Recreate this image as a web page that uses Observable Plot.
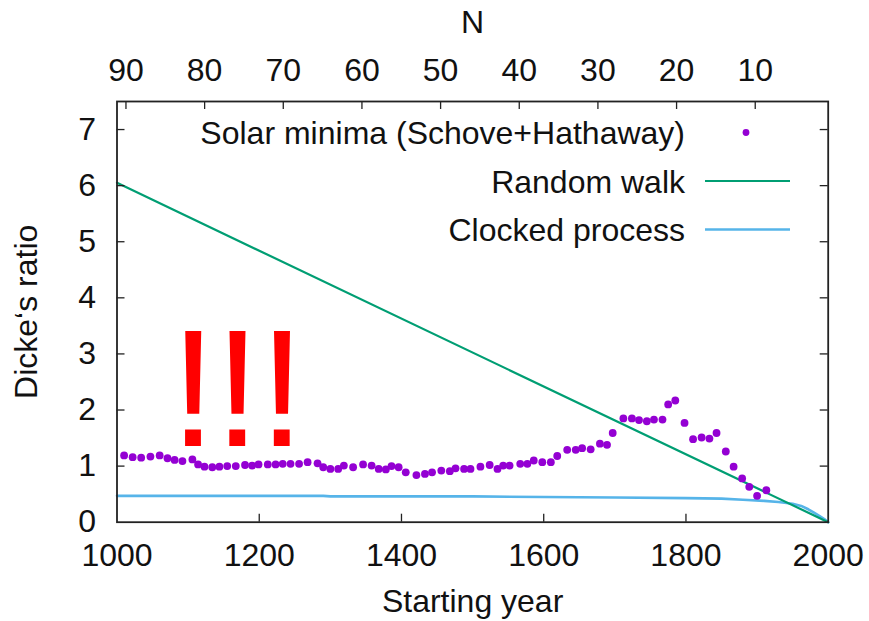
<!DOCTYPE html>
<html>
<head>
<meta charset="utf-8">
<script src="https://cdn.jsdelivr.net/npm/d3@7"></script>
<script src="https://cdn.jsdelivr.net/npm/@observablehq/plot@0.6"></script>
<style>
  html, body { margin: 0; padding: 0; background: #fff; }
  #chart svg { display: block; }
</style>
</head>
<body>
<div id="chart"></div>
<script>
// ---- data ----
const minimaYears = [1010, 1022, 1034, 1047, 1060, 1071, 1081, 1092, 1106, 1114, 1123, 1134, 1144, 1155, 1167, 1180, 1190, 1199, 1212, 1223, 1233, 1244, 1256, 1268, 1282, 1290, 1300, 1311, 1319, 1332, 1346, 1358, 1368, 1378, 1386, 1396, 1406, 1421, 1433, 1443, 1456, 1468, 1476, 1488, 1497, 1511, 1524, 1535, 1543, 1552, 1567, 1577, 1586, 1598, 1610, 1619, 1633, 1645, 1654, 1666, 1679, 1689, 1697, 1712, 1724, 1734, 1745, 1755, 1767, 1775, 1785, 1798, 1810, 1822, 1833, 1843, 1856, 1867, 1879, 1889, 1900, 1913];
const minimaRatios = [1.19, 1.16, 1.15, 1.17, 1.19, 1.14, 1.11, 1.09, 1.12, 1.03, 0.99, 0.98, 0.99, 1.00, 1.00, 1.02, 1.01, 1.03, 1.03, 1.03, 1.04, 1.04, 1.04, 1.07, 1.05, 0.98, 0.95, 0.95, 1.01, 0.98, 1.03, 1.01, 0.95, 0.94, 1.00, 0.98, 0.89, 0.84, 0.86, 0.89, 0.92, 0.91, 0.96, 0.95, 0.95, 0.99, 1.02, 0.95, 1.01, 1.01, 1.04, 1.04, 1.10, 1.07, 1.07, 1.18, 1.29, 1.29, 1.32, 1.30, 1.40, 1.38, 1.59, 1.85, 1.85, 1.82, 1.80, 1.83, 1.83, 2.10, 2.17, 1.77, 1.48, 1.51, 1.49, 1.59, 1.26, 0.99, 0.78, 0.63, 0.47, 0.57];

const walkYears = [1000, 2000];
const walkRatios = [6.05, 0];

const clockYears = [1000, 1100, 1200, 1290, 1300, 1400, 1500, 1600, 1700, 1800, 1850, 1880, 1910, 1930, 1950, 1962, 1972, 1980, 1988, 1995, 2000];
const clockRatios = [0.47, 0.47, 0.47, 0.47, 0.46, 0.46, 0.46, 0.45, 0.44, 0.43, 0.42, 0.40, 0.38, 0.36, 0.33, 0.29, 0.23, 0.17, 0.11, 0.05, 0];

const xTicks = [1000, 1200, 1400, 1600, 1800, 2000];
const yTicks = [0, 1, 2, 3, 4, 5, 6, 7];
const nTicks = [90, 80, 70, 60, 50, 40, 30, 20, 10];
const nEndYear = 2008;      // top axis: N cycles of ~11.06 years before 2008
const cycleLength = 11.06;

const legendLabels = ["Solar minima (Schove+Hathaway)", "Random walk", "Clocked process"];
const legendKinds = ["dot", "line", "line"];
const colors = ["#9400d3", "#009e73", "#56b4e9"];

const annotationText = ["!!!"];
const annotationYear = [1168];
const annotationRatio = [1.36];

// ---- tables ----
const minima = minimaYears.map((year, i) => ({year, ratio: minimaRatios[i]}));
const walk = walkYears.map((year, i) => ({year, ratio: walkRatios[i]}));
const clocked = clockYears.map((year, i) => ({year, ratio: clockRatios[i]}));
const nYears = nTicks.map(n => nEndYear - cycleLength * n);
const annotation = annotationText.map((t, i) => ({t, year: annotationYear[i], ratio: annotationRatio[i]}));
const legendItems = legendLabels.map((label, i) => ({label, kind: legendKinds[i], color: colors[i]}));

const W = 869, H = 621;
const mL = 116.5, mR = 41.3, mT = 101, mB = 99.3;
const innerW = W - mL - mR, innerH = H - mT - mB;
const TICK = 8;
const INK = "#222";
const FONT = "'Liberation Sans', Arial, Helvetica, sans-serif";
const FS = 32;

function legendMark(index, scales, values, dims) {
  const g = d3.create("svg:g");
  const right = dims.width - dims.marginRight;
  const top = dims.marginTop;
  legendItems.forEach((item, i) => {
    const cy = top + 31.5 + i * 48.5;
    g.append("text")
      .attr("x", right - 142.7).attr("y", cy).attr("dy", "0.36em")
      .attr("text-anchor", "end")
      .attr("font-size", FS).attr("font-family", FONT).attr("fill", "#111")
      .text(item.label);
    if (item.kind === "dot") {
      g.append("circle").attr("cx", right - 81.7).attr("cy", cy).attr("r", 3.4).attr("fill", item.color);
    } else {
      g.append("line").attr("x1", right - 122.7).attr("x2", right - 37.7)
        .attr("y1", cy).attr("y2", cy)
        .attr("stroke", item.color).attr("stroke-width", item.color === colors[2] ? 2.5 : 2.2);
    }
  });
  return g.node();
}

const chart = Plot.plot({
  width: W, height: H,
  marginLeft: mL, marginRight: mR, marginTop: mT, marginBottom: mB,
  x: {domain: [1000, 2000]},
  y: {domain: [0, 7.5]},
  style: {fontFamily: FONT, fontSize: FS + "px", color: "#111", background: "#fff", overflow: "visible"},
  marks: [
    // data
    Plot.line(clocked, {x: "year", y: "ratio", stroke: colors[2], strokeWidth: 2.6}),
    Plot.line(walk, {x: "year", y: "ratio", stroke: colors[1], strokeWidth: 2.2}),
    Plot.dot(minima, {x: "year", y: "ratio", r: 3.9, fill: colors[0], stroke: "none"}),
    // annotation
    Plot.text(annotation, {x: "year", y: "ratio", text: "t", fill: "#ff0000", fontSize: 167, fontWeight: "normal", fontFamily: FONT, lineAnchor: "bottom", textAnchor: "middle"}),
    // inward ticks
    Plot.tickX(xTicks.slice(1, -1), {x: d => d, insetTop: innerH - TICK, stroke: INK, strokeWidth: 1.3}),
    Plot.tickX(nYears, {x: d => d, insetBottom: innerH - TICK, stroke: INK, strokeWidth: 1.3}),
    Plot.tickY(yTicks.slice(1), {y: d => d, insetRight: innerW - TICK, stroke: INK, strokeWidth: 1.3}),
    Plot.tickY(yTicks.slice(1), {y: d => d, insetLeft: innerW - TICK, stroke: INK, strokeWidth: 1.3}),
    Plot.frame({stroke: INK, strokeWidth: 1.8}),
    // axes labels
    Plot.axisX(xTicks, {anchor: "bottom", tickSize: 0, tickPadding: 21, label: null, fontSize: FS, tickFormat: d => String(d)}),
    Plot.axisX(nYears, {anchor: "top", tickSize: 0, tickPadding: 21, label: null, fontSize: FS,
      tickFormat: d => String(Math.round((nEndYear - d) / cycleLength))}),
    Plot.axisY(yTicks, {anchor: "left", tickSize: 0, tickPadding: 21, label: null, fontSize: FS, tickFormat: d => String(d)}),
    // axis titles
    Plot.text(["Starting year"], {frameAnchor: "bottom", dy: 80, text: d => d, lineAnchor: "middle", textAnchor: "middle", fontSize: FS}),
    Plot.text(["N"], {frameAnchor: "top", dy: -79, text: d => d, lineAnchor: "middle", textAnchor: "middle", fontSize: FS}),
    Plot.text(["Dicke\u2018s ratio"], {frameAnchor: "left", dx: -90, rotate: -90, text: d => d, lineAnchor: "middle", textAnchor: "middle", fontSize: FS}),
    legendMark
  ]
});

d3.select(chart).selectAll("text")
  .filter(function() { return this.textContent === "!!!"; })
  .attr("letter-spacing", "-2px");

document.getElementById("chart").appendChild(chart);
</script>
</body>
</html>
